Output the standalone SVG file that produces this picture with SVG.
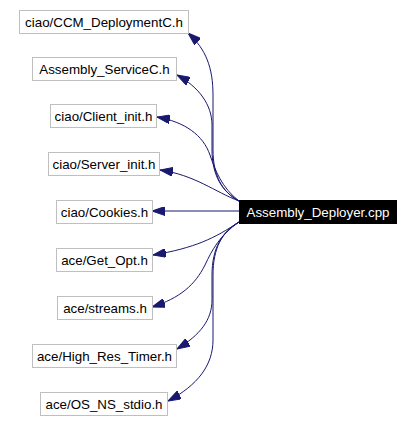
<svg xmlns="http://www.w3.org/2000/svg" width="414" height="422" viewBox="0 0 414 422">
<style>
.n rect{fill:#fff;stroke:#bfbfbf;stroke-width:1}
.n text{font-family:"Liberation Sans",Arial,sans-serif;font-size:13.33px;fill:#000;text-anchor:middle}
#main rect{fill:#000;stroke:#000}
#main text{fill:#fff}
.e path{fill:none;stroke:#191970;stroke-width:1;marker-end:url(#ah)}
</style>
<defs>
<marker id="ah" viewBox="0 0 13 9" refX="13" refY="4.5" markerWidth="13" markerHeight="9" markerUnits="userSpaceOnUse" orient="auto">
<path d="M0,0 L13,4.5 L0,9 z" fill="#191970" stroke="#191970" stroke-width="1"/>
</marker>
</defs>
<rect width="414" height="422" fill="#fff"/>
<g class="e">
<path d="M239,201 C222,192 213,175 213,150 L213,95 C213,68 206,49 188,33"/>
<path d="M239,201 C222,192 212,175 212,150 L212,125 C212,105 199,87 177,75"/>
<path d="M239,201 C222,188 215,170 210,155 C203,135 185,122 157,117"/>
<path d="M239,201 C215,192 195,175 160,170"/>
<path d="M239,211 L152,211"/>
<path d="M239,222 C215,238 195,248 153,255"/>
<path d="M239,222 C220,235 212,250 205,265 C195,285 180,298 152,307"/>
<path d="M239,222 C222,232 212,248 212,275 L212,300 C212,320 200,335 177,349"/>
<path d="M239,222 C222,232 213,248 213,275 L213,340 C213,365 198,385 168,401"/>
</g>
<g id="main" class="n"><rect x="239.5" y="200.5" width="157" height="23"/><text x="318" y="217">Assembly_Deployer.cpp</text></g>
<g id="n1" class="n"><rect x="19.5" y="10.5" width="169" height="23"/><text x="104" y="27">ciao/CCM_DeploymentC.h</text></g>
<g id="n2" class="n"><rect x="32.5" y="57.5" width="144" height="23"/><text x="104.5" y="74">Assembly_ServiceC.h</text></g>
<g id="n3" class="n"><rect x="50.5" y="104.5" width="106" height="23"/><text x="103.5" y="121">ciao/Client_init.h</text></g>
<g id="n4" class="n"><rect x="48.5" y="152.5" width="111" height="23"/><text x="104" y="169">ciao/Server_init.h</text></g>
<g id="n5" class="n"><rect x="56.5" y="200.5" width="96" height="23"/><text x="104.5" y="217">ciao/Cookies.h</text></g>
<g id="n6" class="n"><rect x="56.5" y="248.5" width="96" height="23"/><text x="104.5" y="265">ace/Get_Opt.h</text></g>
<g id="n7" class="n"><rect x="57.5" y="296.5" width="95" height="23"/><text x="105" y="313">ace/streams.h</text></g>
<g id="n8" class="n"><rect x="32.5" y="344.5" width="144" height="23"/><text x="104.5" y="361">ace/High_Res_Timer.h</text></g>
<g id="n9" class="n"><rect x="40.5" y="392.5" width="127" height="23"/><text x="104" y="409">ace/OS_NS_stdio.h</text></g>
</svg>
